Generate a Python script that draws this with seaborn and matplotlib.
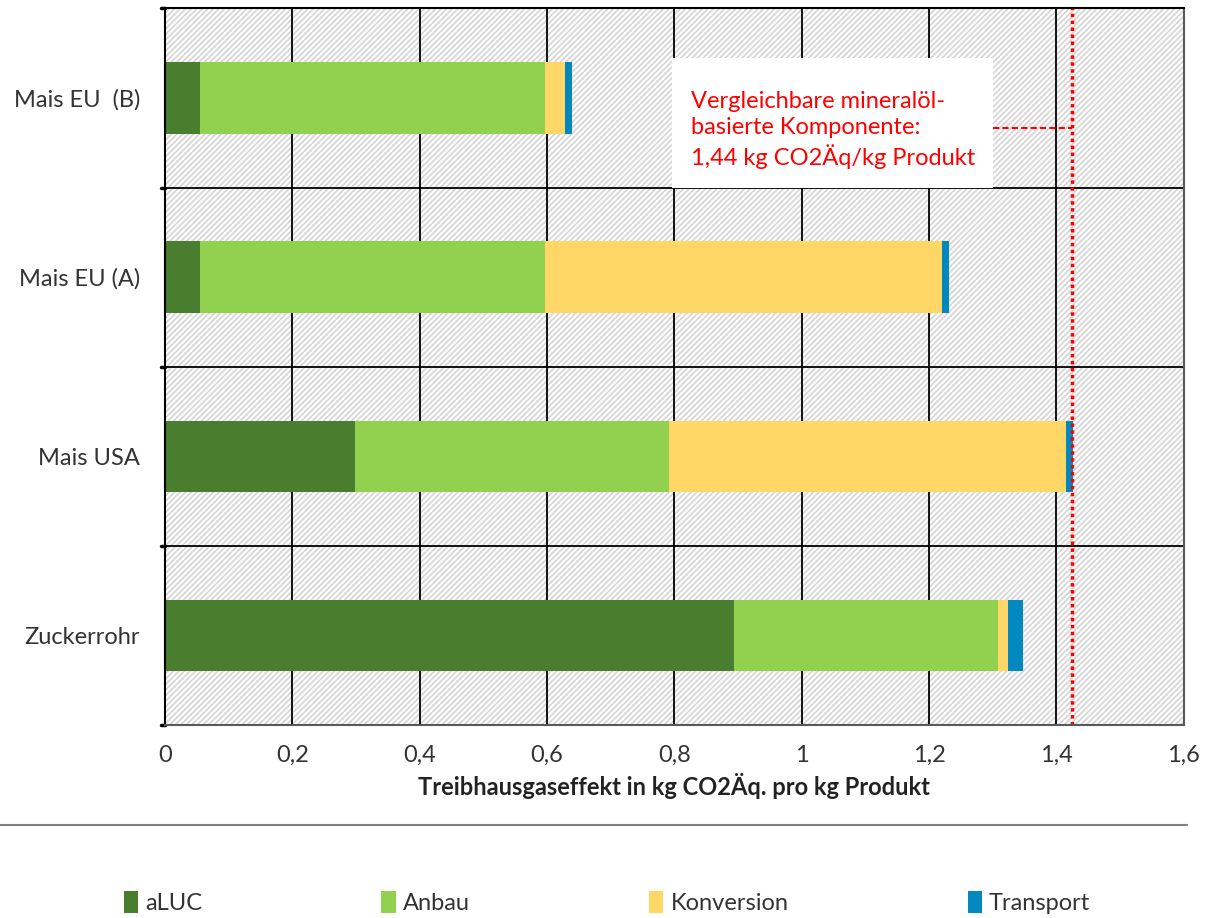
import numpy as np
import pandas as pd
import matplotlib.pyplot as plt
import matplotlib.patches as mpatches
from matplotlib.lines import Line2D
import seaborn as sns

# Data (kg CO2 eq. per kg product)
categories = ['Mais EU  (B)', 'Mais EU (A)', 'Mais USA', 'Zuckerrohr']
aluc = [0.055, 0.055, 0.298, 0.893]
anbau = [0.542, 0.542, 0.493, 0.415]
konversion = [0.031, 0.623, 0.624, 0.016]
transport = [0.011, 0.011, 0.011, 0.023]
reference_value = 1.425
reference_text = 'Vergleichbare mineralöl-\nbasierte Komponente:\n1,44 kg CO2Äq/kg Produkt'
x_ticks = [0, 0.2, 0.4, 0.6, 0.8, 1.0, 1.2, 1.4, 1.6]
x_tick_labels = ['0', '0,2', '0,4', '0,6', '0,8', '1', '1,2', '1,4', '1,6']

series = ['aLUC', 'Anbau', 'Konversion', 'Transport']
colors = ['#487E2E', '#92D050', '#FED766', '#0088BF']

df = pd.DataFrame({'Kategorie': categories, 'aLUC': aluc, 'Anbau': anbau,
                   'Konversion': konversion, 'Transport': transport})
# cumulative sums for stacked bars
cum = df[series].cumsum(axis=1)
cum['Kategorie'] = df['Kategorie']

sns.set_style('white')
plt.rcParams['font.family'] = ['Lato', 'DejaVu Sans']
plt.rcParams['hatch.linewidth'] = 1.2

fig = plt.figure(figsize=(12.14, 9.18), dpi=100)
ax = fig.add_axes([0.136, 0.210, 0.839, 0.781])

# hatched background
ax.add_patch(mpatches.Rectangle((0, 0), 1, 1, transform=ax.transAxes,
                                facecolor='white', edgecolor='#D4D4D4',
                                hatch='//////', linewidth=0, zorder=0))

# draw stacked bars, largest cumulative first
for name, col in reversed(list(zip(series, colors))):
    sns.barplot(data=cum, x=name, y='Kategorie', orient='h', color=col,
                width=0.4, saturation=1, linewidth=0, ax=ax, zorder=3)

ax.set_xlim(0, 1.6)
ax.set_ylim(3.5, -0.5)
ax.set_xticks(x_ticks)
ax.set_xticklabels(x_tick_labels, fontsize=17, color='#333333')
ax.tick_params(axis='x', length=0, pad=14)
ax.tick_params(axis='y', length=0, pad=18, labelsize=17, labelcolor='#333333')
ax.set_ylabel('')
ax.set_xlabel('Treibhausgaseffekt in kg CO2Äq. pro kg Produkt',
              fontsize=17, fontweight='bold', color='#222222', labelpad=5)

# grid lines
for xv in x_ticks[1:-1]:
    ax.axvline(xv, color='black', linewidth=1.3, zorder=1)
for yv in [0.5, 1.5, 2.5]:
    ax.axhline(yv, color='black', linewidth=1.3, zorder=1)
# small category boundary ticks on the left
for yv in [-0.5, 0.5, 1.5, 2.5, 3.5]:
    ax.plot([-0.006, 0], [yv, yv], color='black', linewidth=2.5,
            clip_on=False, zorder=5)

for s in ['left', 'top']:
    ax.spines[s].set_color('black')
    ax.spines[s].set_linewidth(1.5)
for s in ['right', 'bottom']:
    ax.spines[s].set_color('#595959')
    ax.spines[s].set_linewidth(1.5)
for s in ax.spines.values():
    s.set_zorder(6)

# reference line and annotation
ax.axvline(reference_value, color='red', linestyle=(0, (1, 1)), linewidth=2.5, zorder=4)
ax.add_patch(mpatches.Rectangle((0.796, -0.22), 0.504, 0.72, facecolor='white',
                                edgecolor='none', zorder=4))
ax.plot([1.300, reference_value], [0.167, 0.167], color='red', linestyle=(0, (3, 1.5)),
        linewidth=1.5, zorder=4)
ax.text(0.826, 0.18, reference_text, color='red', fontsize=17, va='center',
        ha='left', linespacing=1.3, zorder=5)

# separator line above legend
fig.add_artist(Line2D([0, 0.978], [0.101, 0.101], transform=fig.transFigure,
                      color='#7F7F7F', linewidth=1.5))

handles = [mpatches.Patch(facecolor=c, edgecolor='none', label=n)
           for n, c in zip(series, colors)]
fig.legend(handles=handles, loc='center', bbox_to_anchor=(0.5, 0.017), ncol=4,
           frameon=False, fontsize=17, handlelength=0.6, handleheight=1.1,
           handletextpad=0.3, columnspacing=7.6, labelcolor='#333333')

fig.savefig('out.png', dpi=100)
